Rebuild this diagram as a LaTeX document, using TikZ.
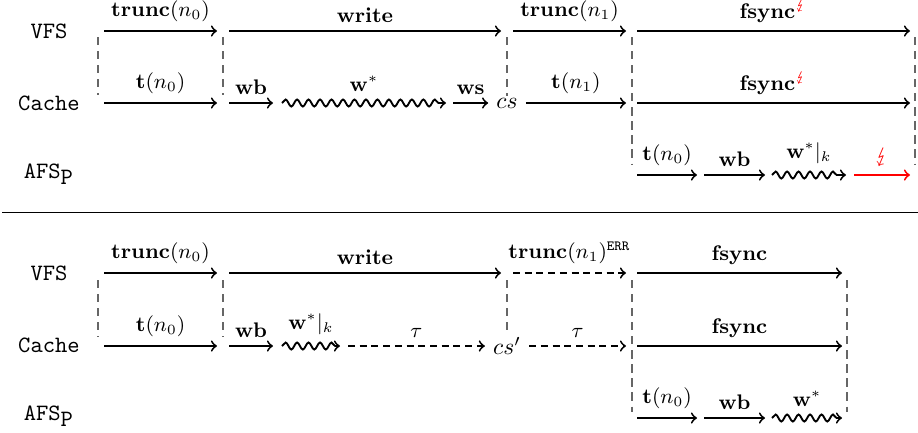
\documentclass[tikz,border=0pt]{standalone}
\usepackage{stmaryrd}
\usetikzlibrary{decorations.pathmorphing}

\newcommand{\crash}{{\color{red}\lightning}}

\tikzset{
  op/.style={->, thick},
  opdashed/.style={op, dash pattern=on 3pt off 2pt},
  opwave/.style={op, decorate, decoration={snake, amplitude=1.5pt, segment length=4.9pt, post length=2pt}},
  lbl/.style={above, font=\small},
  barrier/.style={black!60, line width=0.55pt, dash pattern=on 3.5pt off 2.5pt},
  layer/.style={font=\ttfamily},
}

\begin{document}
\begin{tikzpicture}[x=0.015cm, y=-0.015cm]
\useasboundingbox (0,0) rectangle (918,432);

% time points on each row, T = first run, B = second run
\foreach \cl/\x in {a/104, b/217, c/229, d/273, e/282, f/340, g/348, h/446, i/453, u/501, j/513, k/626, l/637, m/697, n/704, o/765, p/772, q/842, r/846, s/854, t/910} {
  \foreach \rw/\y in {v/31, c/103, a/175} \coordinate (T\rw\cl) at (\x,\y);
  \foreach \rw/\y in {v/273, c/346, a/418} \coordinate (B\rw\cl) at (\x,\y);
}

% layers
\foreach \n/\y in {T/0, B/242} {
  \node[layer] (\n vfs) at (49,31+\y) {VFS};
  \node[layer] (\n cache) at (49,103+\y) {Cache};
  \node[layer] (\n afs) at (49,174+\y) {AFS$_{\texttt{P}}$};
}

% first run
\draw[op] (Tva) -- node[lbl] {$\mathbf{trunc}(n_0)$} (Tvb);
\draw[op] (Tvc) -- node[lbl] {$\mathbf{write}$} (Tvu);
\draw[op] (Tvj) -- node[lbl] {$\mathbf{trunc}(n_1)$} (Tvk);
\draw[op] (Tvl) -- node[lbl] {$\mathbf{fsync}^{\crash}$} (Tvt);

\node (cs) at (507,103) {$cs$};
\draw[op] (Tca) -- node[lbl] {$\mathbf{t}(n_0)$} (Tcb);
\draw[op] (Tcc) -- node[lbl] {$\mathbf{wb}$} (Tcd);
\draw[opwave] (Tce) -- node[lbl, above=1pt] {$\mathbf{w}^*$} (Tch);
\draw[op] (Tci) -- node[lbl] {$\mathbf{ws}$} (cs);
\draw[op] (cs) -- node[lbl] {$\mathbf{t}(n_1)$} (Tck);
\draw[op] (Tcl) -- node[lbl] {$\mathbf{fsync}^{\crash}$} (Tct);

\draw[op] (Tal) -- node[lbl] {$\mathbf{t}(n_0)$} (Tam);
\draw[op] (Tan) -- node[lbl] {$\mathbf{wb}$} (Tao);
\draw[opwave] (Tap) -- node[lbl, above=1pt] {$\mathbf{w}^*|_k$} (Tar);
\draw[op, red] (Tas) -- node[lbl] {$\lightning$} (Tat);

\foreach \x/\y in {98/95, 223/95, 507/96, 632/165, 915/165}
  \draw[barrier] (\x,37) -- (\x,\y);

\coordinate (sepl) at (2,212);
\coordinate (sepr) at (918,212);
\draw (sepl) -- (sepr);

% second run
\draw[op] (Bva) -- node[lbl] {$\mathbf{trunc}(n_0)$} (Bvb);
\draw[op] (Bvc) -- node[lbl] {$\mathbf{write}$} (Bvu);
\draw[opdashed] (Bvj) -- node[lbl] {$\mathbf{trunc}(n_1)^{\mathtt{ERR}}$} (Bvk);
\draw[op] (Bvl) -- node[lbl] {$\mathbf{fsync}$} (Bvq);

\node (csp) at (507,346) {$cs'$};
\draw[op] (Bca) -- node[lbl] {$\mathbf{t}(n_0)$} (Bcb);
\draw[op] (Bcc) -- node[lbl] {$\mathbf{wb}$} (Bcd);
\draw[opwave] (Bce) -- node[lbl, above=1pt] {$\mathbf{w}^*|_k$} (Bcf);
\draw[opdashed] (Bcg) -- node[lbl] {$\tau$} (csp);
\draw[opdashed] (csp) -- node[lbl] {$\tau$} (Bck);
\draw[op] (Bcl) -- node[lbl] {$\mathbf{fsync}$} (Bcq);

\draw[op] (Bal) -- node[lbl] {$\mathbf{t}(n_0)$} (Bam);
\draw[op] (Ban) -- node[lbl] {$\mathbf{wb}$} (Bao);
\draw[opwave] (Bap) -- node[lbl, above=1pt] {$\mathbf{w}^*$} (Baq);

\foreach \x/\y in {98/337, 223/337, 507/330, 632/412, 847/412}
  \draw[barrier] (\x,280) -- (\x,\y);
\end{tikzpicture}
\end{document}
